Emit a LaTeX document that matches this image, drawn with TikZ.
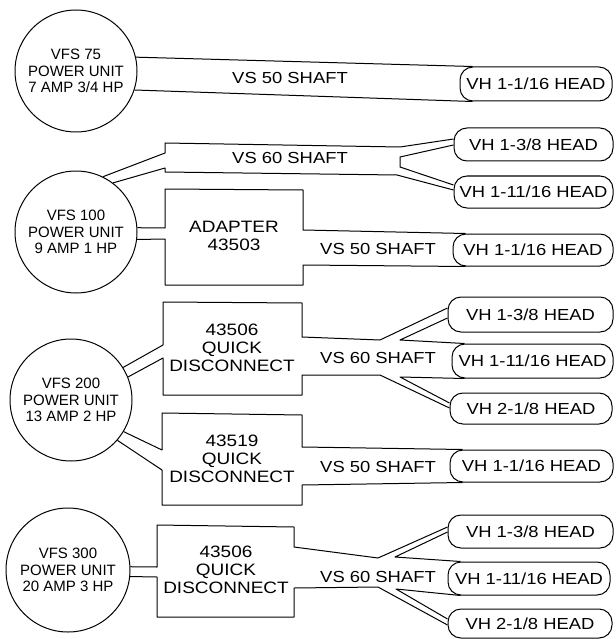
\documentclass[tikz,border=0pt]{standalone}
\usepackage{graphicx}
\usepackage{fontspec}
\setmainfont{Liberation Sans}
\newcommand\hs[1]{\scalebox{1.15}[1]{#1}}
\begin{document}
\begin{tikzpicture}[x=1pt,y=-1pt,line width=1pt,line join=round,
 pu/.style={circle,draw,minimum size=122pt,inner sep=0pt,align=center,font=\fontsize{15}{16.5}\selectfont},
 hd/.style={draw,rounded corners=13pt,inner sep=0pt,font=\fontsize{16}{18}\selectfont},
 lb/.style={inner sep=0pt,align=center,font=\fontsize{16}{18}\selectfont},
 bt/.style={inner sep=0pt,align=center,font=\fontsize{16.5}{18}\selectfont}]
\fill[white] (0,0) rectangle (615,639);
\useasboundingbox (0,0) rectangle (615,639);

% ---- Row 1
\node[pu] (C1) at (76,71) {VFS 75\\POWER UNIT\\7 AMP 3/4 HP};
\node[hd,minimum width=152pt,minimum height=34pt] (H1) at (536,84) {\hs{VH 1-1/16 HEAD}};
\draw (C1.13) -- ([xshift=13pt]H1.north west);
\draw (C1.-18) -- ([xshift=13pt]H1.south west);
\node[lb] (L1) at (290,78) {\hs{VS 50 SHAFT}};

% ---- Row 2
\node[pu] (C2) at (76,232) {VFS 100\\POWER UNIT\\9 AMP 1 HP};
\node[hd,minimum width=159pt,minimum height=33pt] (H2a) at (533.5,144.5) {\hs{VH 1-3/8 HEAD}};
\node[hd,minimum width=159pt,minimum height=32pt] (H2b) at (533.5,192) {\hs{VH 1-11/16 HEAD}};
\node[hd,minimum width=160pt,minimum height=32pt] (H2c) at (533,250) {\hs{VH 1-1/16 HEAD}};
\draw (C2.64) -- (165,153) -- (165,143) -- (400,147) -- ([yshift=5.5pt]H2a.west);
\draw ([yshift=-0.5pt]H2a.west) -- (400,157) -- (400,167) -- ([yshift=7pt]H2b.west);
\draw ([yshift=2pt]H2b.west) -- (397,175) -- (165,172) -- (165,168) -- (C2.53);
\node[lb] (L2) at (290,158) {\hs{VS 60 SHAFT}};

\node[bt] (AD) at (234,236) {\hs{ADAPTER}\\\hs{43503}};
\draw (C2.4) -- (165,228) -- (165,189) -- (303,190) -- (303,230) -- ([xshift=13pt]H2c.north west);
\draw (C2.-7) -- (165,239) -- (165,285) -- (303,285) -- (303,265) -- ([xshift=13pt]H2c.south west);
\node[lb] (L3) at (378,249) {\hs{VS 50 SHAFT}};

% ---- Row 3
\node[pu] (C3) at (71,400) {VFS 200\\POWER UNIT\\13 AMP 2 HP};
\node[hd,minimum width=165pt,minimum height=35pt] (H3a) at (530.5,314.5) {\hs{VH 1-3/8 HEAD}};
\node[hd,minimum width=161pt,minimum height=34pt] (H3b) at (532.5,361) {\hs{VH 1-11/16 HEAD}};
\node[hd,minimum width=162pt,minimum height=31pt] (H3c) at (531,408.5) {\hs{VH 2-1/8 HEAD}};
\node[hd,minimum width=163pt,minimum height=32pt] (H3d) at (531.5,466) {\hs{VH 1-1/16 HEAD}};

\node[bt] (B3a) at (232,348) {\hs{43506}\\\hs{QUICK}\\\hs{DISCONNECT}};
\draw (C3.32) -- (163,345) -- (163,302) -- (302,303) -- (302,337) -- (380,340) -- ([yshift=6.5pt]H3a.west);
\draw ([yshift=-3.5pt]H3a.west) -- (400,340) -- ([xshift=13pt]H3b.north west);
\draw ([xshift=13pt]H3b.south west) -- (400,377) -- ([yshift=5.5pt]H3c.west);
\draw ([yshift=0.5pt]H3c.west) -- (380,375) -- (302,375) -- (302,395) -- (163,395) -- (163,358) -- (C3.22);
\node[lb] (L4) at (378,358) {\hs{VS 60 SHAFT}};

\node[bt] (B3b) at (232,459) {\hs{43519}\\\hs{QUICK}\\\hs{DISCONNECT}};
\draw (C3.-31) -- (162,450) -- (162,413) -- (302,415) -- (302,447) -- ([xshift=13pt]H3d.north west);
\draw (C3.-41) -- (162,470) -- (162,505) -- (302,505) -- (302,485) -- ([xshift=13pt]H3d.south west);
\node[lb] (L5) at (378,467) {\hs{VS 50 SHAFT}};

% ---- Row 4
\node[pu,minimum size=124pt] (C4) at (68,570) {VFS 300\\POWER UNIT\\20 AMP 3 HP};
\node[hd,minimum width=165pt,minimum height=33pt] (H4a) at (530.5,531.5) {\hs{VH 1-3/8 HEAD}};
\node[hd,minimum width=162pt,minimum height=33pt] (H4b) at (529,578.5) {\hs{VH 1-11/16 HEAD}};
\node[hd,minimum width=164pt,minimum height=29pt] (H4c) at (530,623.5) {\hs{VH 2-1/8 HEAD}};
\node[bt] (B4) at (226,570) {\hs{43506}\\\hs{QUICK}\\\hs{DISCONNECT}};
\draw (C4.3) -- (157,567) -- (157,525) -- (294,527) -- (294,547) -- (378,558) -- ([yshift=4.5pt]H4a.west);
\draw ([yshift=-0.5pt]H4a.west) -- (395,557) -- ([xshift=13pt]H4b.north west);
\draw ([xshift=13pt]H4b.south west) -- (396,589) -- ([yshift=4.5pt]H4c.west);
\draw ([yshift=-1.5pt]H4c.west) -- (378,587) -- (294,588) -- (294,617) -- (157,617) -- (157,577) -- (C4.-6);
\node[lb] (L6) at (378,577) {\hs{VS 60 SHAFT}};
\end{tikzpicture}
\end{document}
